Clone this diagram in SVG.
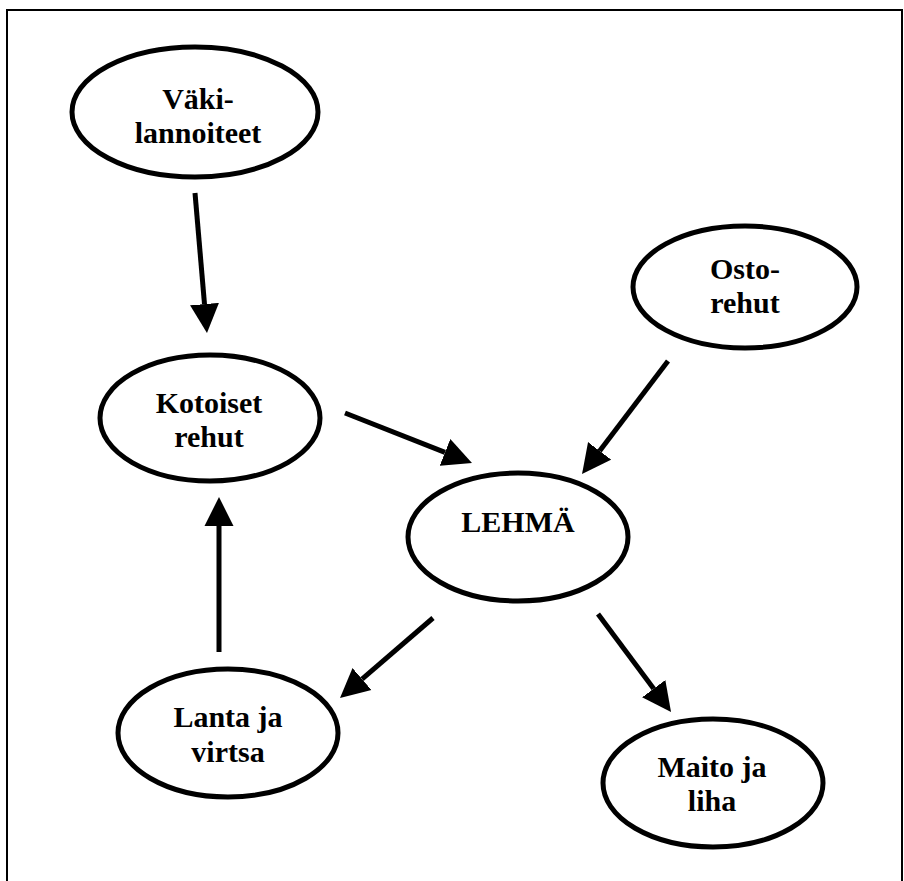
<svg xmlns="http://www.w3.org/2000/svg" width="904" height="881" viewBox="0 0 904 881">
<style>
.frame{fill:none;stroke:#000;stroke-width:2}
.node ellipse{fill:#fff;stroke:#000;stroke-width:5}
.node text{font-family:"Liberation Serif","Times New Roman",serif;font-weight:bold;font-size:30px;text-anchor:middle;fill:#000}
.edge{stroke:#000;stroke-width:5;fill:none;marker-end:url(#ah)}
</style>
<defs>
<marker id="ah" markerUnits="userSpaceOnUse" markerWidth="30" markerHeight="30" viewBox="0 -15 30 30" refX="0" refY="0" orient="auto">
<path d="M0,-14.5 L29,0 L0,14.5 z" fill="#000"/>
</marker>
</defs>
<rect class="frame" x="7" y="10" width="895" height="880"/>
<g id="n-vaki" class="node">
<ellipse cx="195" cy="112" rx="123" ry="65"/>
<text x="198" y="109">Väki-</text>
<text x="198" y="143">lannoiteet</text>
</g>
<g id="n-kotoiset" class="node">
<ellipse cx="210" cy="418" rx="110" ry="63"/>
<text x="209" y="413">Kotoiset</text>
<text x="209" y="447">rehut</text>
</g>
<g id="n-osto" class="node">
<ellipse cx="745" cy="287" rx="112" ry="61"/>
<text x="745" y="279">Osto-</text>
<text x="745" y="313">rehut</text>
</g>
<g id="n-lehma" class="node">
<ellipse cx="518" cy="537" rx="110" ry="64"/>
<text x="518" y="532">LEHMÄ</text>
</g>
<g id="n-lanta" class="node">
<ellipse cx="228" cy="733" rx="110" ry="64"/>
<text x="228" y="727">Lanta ja</text>
<text x="228" y="762">virtsa</text>
</g>
<g id="n-maito" class="node">
<ellipse cx="713" cy="783" rx="110" ry="64"/>
<text x="712" y="777">Maito ja</text>
<text x="712" y="811">liha</text>
</g>
<g id="connectors">
<line class="edge" x1="195" y1="193" x2="204.5" y2="304.1"/>
<line class="edge" x1="345" y1="413" x2="445" y2="452.4"/>
<line class="edge" x1="668" y1="361" x2="599.6" y2="450.9"/>
<line class="edge" x1="219" y1="652" x2="219" y2="526"/>
<line class="edge" x1="433" y1="618" x2="362" y2="679.1"/>
<line class="edge" x1="598" y1="614" x2="653.7" y2="688.7"/>
</g>
</svg>
